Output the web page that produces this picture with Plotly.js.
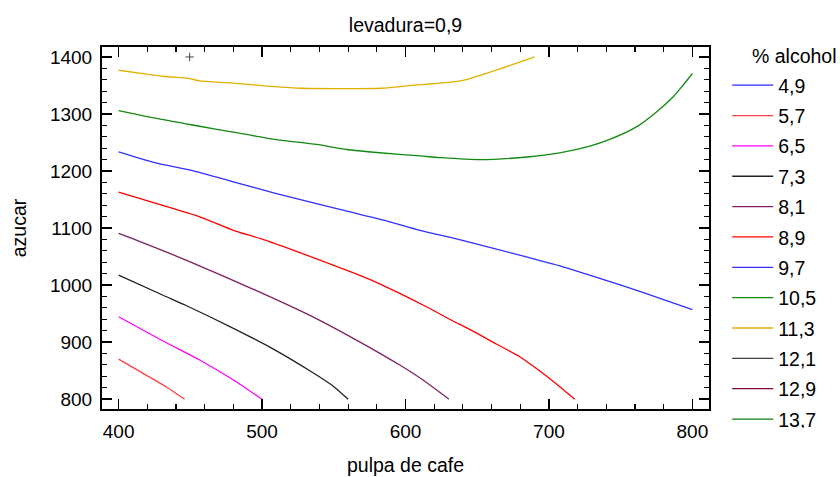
<!DOCTYPE html>
<html>
<head>
<meta charset="utf-8">
<script src="https://cdn.plot.ly/plotly-3.0.1.min.js"></script>
<style>html,body{margin:0;padding:0;background:#fff;}#chart{width:840px;height:477px;}</style>
</head>
<body>
<div id="chart"></div>
<script>
// Contour levels (% alcohol) and their colours
var levels = ["4,9","5,7","6,5","7,3","8,1","8,9","9,7","10,5","11,3","12,1","12,9","13,7"];
var levelColors = ["#2828ff","#ff4040","#ff00ff","#202020","#802060","#ff0000","#3030ff","#108a10","#e0b000","#404040","#800040","#107a10"];

// Contour line points (pulpa de cafe, azucar); null = level not reached in the plotted region
var x_4_9 = [null]; var y_4_9 = [null];
var x_5_7 = [400, 417, 433, 446];
var y_5_7 = [870, 845, 821.6, 799.5];
var x_6_5 = [400, 431, 456.5, 480, 500];
var y_6_5 = [944.3, 901.7, 868.4, 833.3, 799.5];
var x_7_3 = [400, 431, 447, 480, 507.6, 533, 549.4, 560];
var y_7_3 = [1017.4, 982, 964, 924, 888, 850, 823, 799.5];
var x_8_1 = [400, 412.3, 447, 500.7, 533, 565.8, 596, 612.2, 630.3];
var y_8_1 = [1090.5, 1078.7, 1043.6, 985, 947.2, 903.4, 859.6, 833.3, 799.5];
var x_8_9 = [400, 426, 456.5, 480, 500.6, 549.5, 575, 596, 614.6, 630.8, 647, 663.3, 679.6, 688.9, 698.2, 707.5, 718];
var y_8_9 = [1163, 1143, 1119.6, 1096, 1080, 1035, 1010, 985.3, 961.8, 940, 919, 896.5, 874.2, 857.8, 840.3, 821.6, 799.5];
var x_9_7 = [400, 426, 452, 480, 510, 533, 556.4, 586.7, 610, 639, 679.6, 709.7, 737.6, 767.9, 800];
var y_9_7 = [1233.6, 1214.2, 1200.2, 1181, 1160.5, 1146, 1131.3, 1112.5, 1096, 1078.7, 1052.4, 1032, 1010, 985, 957];
var x_10_5 = [400, 431, 456.5, 480, 510, 538, 559, 582, 610, 624, 652, 686.6, 707.5, 728.5, 742.4, 761, 775, 786.5, 793.5, 800];
var y_10_5 = [1306, 1290, 1278.5, 1268, 1255, 1246.5, 1237.7, 1232, 1226.5, 1223.6, 1220, 1225, 1231.7, 1243.5, 1255.3, 1277.3, 1303.6, 1329.9, 1350.4, 1371];
var x_11_3 = [400, 417, 431, 449.5, 456.5, 475, 505.3, 527.4, 583.2, 603, 640, 668, 679.6, 690];
var y_11_3 = [1376.7, 1370.9, 1366.2, 1362, 1358, 1355, 1348.6, 1345.1, 1345.1, 1349.8, 1359, 1381, 1391, 1400];
var x_12_1 = [null]; var y_12_1 = [null];
var x_12_9 = [null]; var y_12_9 = [null];
var x_13_7 = [null]; var y_13_7 = [null];

// Optimum marker
var markX = [449.5];
var markY = [1400];

var lineX = [x_4_9, x_5_7, x_6_5, x_7_3, x_8_1, x_8_9, x_9_7, x_10_5, x_11_3, x_12_1, x_12_9, x_13_7];
var lineY = [y_4_9, y_5_7, y_6_5, y_7_3, y_8_1, y_8_9, y_9_7, y_10_5, y_11_3, y_12_1, y_12_9, y_13_7];

var FONT = "Liberation Sans, Arial, sans-serif";

var traces = levels.map(function (lv, i) {
  return {
    type: "scatter", mode: "lines",
    x: lineX[i], y: lineY[i],
    name: lv, legendgroup: "g" + i,
    line: {color: levelColors[i], width: 1.3, shape: "spline", smoothing: 0.7},
    hoverinfo: "x+y+name"
  };
});
traces.push({
  type: "scatter", mode: "markers", x: markX, y: markY, showlegend: false,
  marker: {symbol: "cross-thin", size: 6, line: {color: "#444", width: 1}}
});

var axisCommon = {
  showgrid: false, zeroline: false, showline: true, linecolor: "#000", linewidth: 2,
  mirror: "allticks", ticks: "inside", ticklen: 10, tickwidth: 1.5, tickcolor: "#000",
  dtick: 100, tickfont: {family: FONT, size: 19, color: "#000"}, ticklabelstandoff: 4,
  minor: {dtick: 20, ticks: "inside", ticklen: 5, tickwidth: 1.2, tickcolor: "#000"}
};

var layout = {
  width: 840, height: 477,
  margin: {l: 102, r: 131, t: 47, b: 68},
  paper_bgcolor: "#fff", plot_bgcolor: "#fff",
  font: {family: FONT, color: "#000"},
  title: {text: "levadura=0,9", font: {family: FONT, size: 19.5, color: "#000"},
          x: 0.5, xref: "paper", xanchor: "center", y: 0.947, yanchor: "middle"},
  xaxis: Object.assign({}, axisCommon, {
    range: [388.4, 811.6], tick0: 400,
    title: {text: "pulpa de cafe", font: {family: FONT, size: 19.5, color: "#000"}, standoff: 18}
  }),
  yaxis: Object.assign({}, axisCommon, {
    range: [782.5, 1417.5], tick0: 800,
    title: {text: "azucar", font: {family: FONT, size: 19.5, color: "#000"}, standoff: 18}
  }),
  showlegend: true,
  legend: {
    x: 1.03, xanchor: "left", y: 0.9475, yanchor: "top",
    font: {family: FONT, size: 19.5, color: "#000"},
    tracegroupgap: 2, bgcolor: "rgba(0,0,0,0)", itemwidth: 41
  },
  annotations: [{
    text: "% alcohol", xref: "paper", yref: "paper", x: 1.067, y: 1.011,
    xanchor: "left", yanchor: "top", showarrow: false,
    font: {family: FONT, size: 19.5, color: "#000"}
  }]
};

Plotly.newPlot("chart", traces, layout, {displayModeBar: false, staticPlot: true});
</script>
</body>
</html>
